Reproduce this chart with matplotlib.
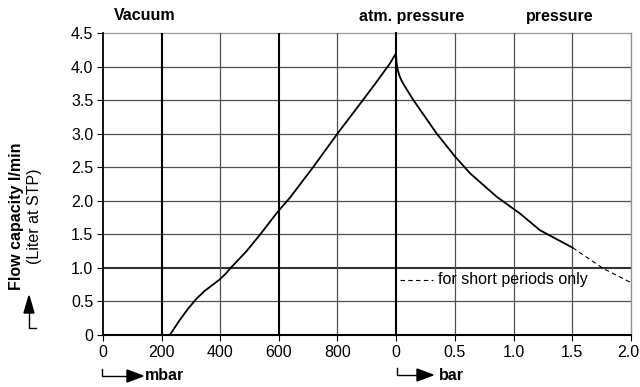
import matplotlib
matplotlib.use("Agg")
import matplotlib.pyplot as plt
from matplotlib.lines import Line2D
from matplotlib.patches import Polygon
from matplotlib.transforms import ScaledTranslation

plt.rcParams['font.family'] = ['Liberation Sans', 'DejaVu Sans']

# ---- data ----
vac_mbar = [228, 260, 290, 319, 345, 372, 399, 420, 438, 490, 535, 597, 637, 717, 800, 887, 930, 955, 980, 1000]
vac_flow = [0.0, 0.21, 0.39, 0.54, 0.65, 0.74, 0.83, 0.92, 1.01, 1.25, 1.49, 1.84, 2.04, 2.50, 3.00, 3.50, 3.75, 3.90, 4.05, 4.20]

pres_bar = [0.0, 0.005, 0.015, 0.03, 0.05, 0.077, 0.148, 0.347, 0.502, 0.63, 0.857, 1.055, 1.226, 1.504]
pres_flow = [4.20, 4.05, 3.95, 3.86, 3.78, 3.70, 3.50, 3.00, 2.66, 2.41, 2.06, 1.81, 1.56, 1.30]

short_bar = [1.504, 1.765, 2.0]
short_flow = [1.30, 0.99, 0.78]

mbar_ticks = [0, 200, 400, 600, 800]
mbar_labels = ["0", "200", "400", "600", "800"]
bar_ticks = [0, 0.5, 1.0, 1.5, 2.0]
bar_labels = ["0", "0.5", "1.0", "1.5", "2.0"]
y_ticks = [0, 0.5, 1.0, 1.5, 2.0, 2.5, 3.0, 3.5, 4.0, 4.5]
y_labels = ["0", "0.5", "1.0", "1.5", "2.0", "2.5", "3.0", "3.5", "4.0", "4.5"]

FS = 11.5
W, H = 640, 387
fig = plt.figure(figsize=(W / 100, H / 100), dpi=100)

def fx(x):
    return x / W

def fy(y):
    return 1 - y / H

left, mid, right = 103, 396, 631
top, bottom = 33, 335
ax1 = fig.add_axes([fx(left), fy(bottom), fx(mid - left), fy(top) - fy(bottom)])
ax2 = fig.add_axes([fx(mid), fy(bottom), fx(right - mid), fy(top) - fy(bottom)])

GRID = '#505050'
for ax in (ax1, ax2):
    ax.set_ylim(0, 4.5)
    for s in ax.spines.values():
        s.set_visible(False)
    for yv in y_ticks[1:-1]:
        if yv == 1.0:
            ax.axhline(yv, color='#333333', lw=1.5, zorder=1)
        else:
            ax.axhline(yv, color=GRID, lw=0.9, zorder=1)
    ax.axhline(4.5, color='#a0a0a0', lw=1.0, zorder=1, clip_on=False)
    ax.axhline(0, color='black', lw=1.5, zorder=3, clip_on=False)
    ax.tick_params(axis='both', labelsize=FS, colors='black', length=4, width=0.8)

ax1.set_xlim(0, 1000)
ax2.set_xlim(0, 2.0)

for xv in [200, 600]:
    ax1.axvline(xv, color='black', lw=1.5, zorder=2)
for xv in [400, 800]:
    ax1.axvline(xv, color=GRID, lw=0.9, zorder=1)
ax1.axvline(0, color='black', lw=1.3, zorder=2, clip_on=False)
ax2.axvline(0, color='black', lw=1.5, zorder=2, clip_on=False)
for xv in [0.5, 1.0, 1.5]:
    ax2.axvline(xv, color=GRID, lw=0.9, zorder=1)
ax2.axvline(2.0, color='#909090', lw=1.0, zorder=1, clip_on=False)

ax1.set_xticks(mbar_ticks)
ax1.set_xticklabels(mbar_labels)
ax1.set_yticks(y_ticks)
ax1.set_yticklabels(y_labels)
ax2.set_xticks(bar_ticks)
ax2.set_xticklabels(bar_labels)
ax2.set_yticks([])
ax1.tick_params(axis='x', pad=3)
ax2.tick_params(axis='x', pad=3)
ax1.tick_params(axis='y', pad=3)

last = ax2.get_xticklabels()[-1]
last.set_transform(last.get_transform() + ScaledTranslation(-3 / 100, 0, fig.dpi_scale_trans))

ax1.plot(vac_mbar, vac_flow, color='black', lw=1.3, zorder=4, clip_on=False)
ax2.plot(pres_bar, pres_flow, color='black', lw=1.3, zorder=4, clip_on=False)
ax2.plot(short_bar, short_flow, color='black', lw=0.8, ls=(0, (4, 3)), zorder=4, clip_on=False)

# note
ax2.plot([0.034, 0.315], [0.82, 0.82], color='black', lw=0.8, ls=(0, (4, 3)), zorder=4)
ax2.text(0.36, 0.82, "for short periods only", fontsize=FS, va='center', ha='left', zorder=5)

# header labels
fig.text(fx(145), fy(16), "Vacuum", fontsize=FS, fontweight='bold', ha='center', va='center')
fig.text(fx(412), fy(16), "atm. pressure", fontsize=FS, fontweight='bold', ha='center', va='center')
fig.text(fx(560), fy(16), "pressure", fontsize=FS, fontweight='bold', ha='center', va='center')

# y-axis label
fig.text(fx(17), fy(216), "Flow capacity l/min", fontsize=FS, fontweight='bold',
         rotation=90, ha='center', va='center')
fig.text(fx(34), fy(216), "(Liter at STP)", fontsize=FS, rotation=90, ha='center', va='center')

def line(xs, ys, lw=1.0):
    fig.add_artist(Line2D([fx(x) for x in xs], [fy(y) for y in ys], color='black', lw=lw,
                          transform=fig.transFigure))

def tri(pts):
    fig.add_artist(Polygon([(fx(x), fy(y)) for x, y in pts], closed=True, color='black',
                           transform=fig.transFigure))

# y arrow
line([29, 29, 36], [312, 328, 328])
tri([(29, 296), (24, 313), (34, 313)])

# mbar arrow
line([102, 102, 128], [369, 376, 376])
tri([(127, 370), (127, 382), (143, 376)])
fig.text(fx(145), fy(376), "mbar", fontsize=FS, fontweight='bold', ha='left', va='center')

# bar arrow
line([397, 397, 418], [368, 375, 375])
tri([(417, 369), (417, 381), (433, 375)])
fig.text(fx(439), fy(375), "bar", fontsize=FS, fontweight='bold', ha='left', va='center')

fig.savefig("out.png", dpi=100)
